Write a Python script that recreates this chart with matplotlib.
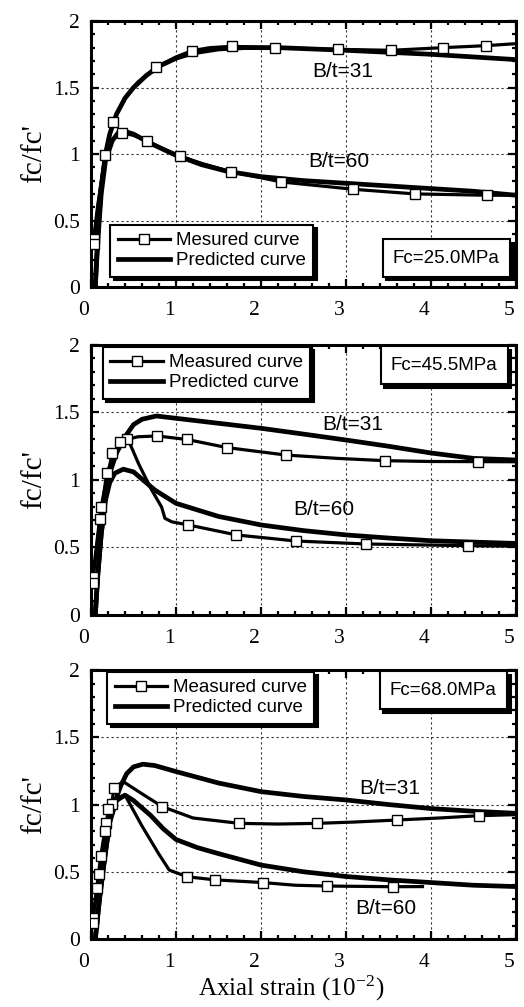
import matplotlib
matplotlib.use("Agg")
import matplotlib.pyplot as plt
from matplotlib.lines import Line2D
from matplotlib.ticker import MultipleLocator, FuncFormatter
import matplotlib.transforms as mtrans

# ---- panel 1: Fc = 25.0 MPa ----
p1_m31_x = [0.03, 0.255, 0.77, 1.185, 1.655, 2.165, 2.91, 3.53, 4.145, 4.65]
p1_m31_y = [0.36, 1.24, 1.655, 1.777, 1.81, 1.80, 1.787, 1.78, 1.80, 1.815]
p1_m31_line_x = [0.03, 0.08, 0.15, 0.255, 0.4, 0.55, 0.77, 1.0, 1.185, 1.4, 1.655, 2.165, 2.91, 3.53, 4.145, 4.65, 5.0]
p1_m31_line_y = [0.36, 0.62, 0.92, 1.24, 1.42, 1.54, 1.655, 1.73, 1.777, 1.80, 1.81, 1.80, 1.787, 1.78, 1.80, 1.815, 1.83]
p1_m60_x = [0.03, 0.165, 0.36, 0.655, 1.047, 1.647, 2.24, 3.085, 3.81, 4.66]
p1_m60_y = [0.32, 0.99, 1.16, 1.10, 0.985, 0.867, 0.79, 0.735, 0.70, 0.69]
p1_m60_line_x = [0.03, 0.08, 0.165, 0.25, 0.36, 0.5, 0.655, 0.85, 1.047, 1.3, 1.647, 2.24, 3.085, 3.81, 4.66, 5.0]
p1_m60_line_y = [0.32, 0.6, 0.99, 1.11, 1.16, 1.14, 1.10, 1.04, 0.985, 0.93, 0.867, 0.79, 0.735, 0.70, 0.69, 0.69]
p1_p31_x = [0.05, 0.08, 0.12, 0.17, 0.22, 0.3, 0.4, 0.5, 0.65, 0.8, 1.0, 1.2, 1.5, 1.8, 2.2, 2.6, 3.0, 3.5, 4.0, 4.5, 5.0]
p1_p31_y = [0.0, 0.4, 0.75, 1.0, 1.15, 1.30, 1.42, 1.50, 1.59, 1.66, 1.72, 1.76, 1.79, 1.80, 1.80, 1.79, 1.78, 1.765, 1.75, 1.73, 1.71]
p1_p60_x = [0.05, 0.08, 0.12, 0.17, 0.25, 0.32, 0.4, 0.5, 0.7, 1.0, 1.3, 1.6, 2.0, 2.5, 3.0, 3.5, 4.0, 4.5, 5.0]
p1_p60_y = [0.0, 0.35, 0.7, 0.95, 1.10, 1.16, 1.17, 1.15, 1.08, 0.99, 0.92, 0.87, 0.83, 0.80, 0.78, 0.76, 0.74, 0.72, 0.69]

# ---- panel 2: Fc = 45.5 MPa ----
p2_m31_x = [0.02, 0.118, 0.25, 0.42, 0.78, 1.13, 1.60, 2.29, 3.46, 4.55]
p2_m31_y = [0.28, 0.80, 1.20, 1.30, 1.326, 1.30, 1.24, 1.185, 1.143, 1.136]
p2_m31_line_x = [0.02, 0.118, 0.25, 0.42, 0.55, 0.78, 1.13, 1.60, 2.29, 2.9, 3.46, 4.0, 4.55, 5.0]
p2_m31_line_y = [0.28, 0.80, 1.20, 1.30, 1.32, 1.326, 1.30, 1.24, 1.185, 1.16, 1.143, 1.137, 1.136, 1.135]
p2_m60_x = [0.02, 0.106, 0.185, 0.34, 1.145, 1.71, 2.41, 3.23, 4.44]
p2_m60_y = [0.24, 0.71, 1.05, 1.28, 0.667, 0.593, 0.548, 0.526, 0.513]
p2_m60_line_x = [0.02, 0.106, 0.185, 0.34, 0.45, 0.56, 0.71, 0.83, 0.87, 0.95, 1.145, 1.71, 2.41, 3.23, 4.44, 5.0]
p2_m60_line_y = [0.24, 0.71, 1.05, 1.28, 1.28, 1.12, 0.93, 0.80, 0.716, 0.69, 0.667, 0.593, 0.548, 0.526, 0.513, 0.51]
p2_p31_x = [0.05, 0.08, 0.12, 0.17, 0.22, 0.3, 0.4, 0.5, 0.6, 0.77, 1.0, 1.5, 2.0, 2.5, 3.0, 3.5, 4.0, 4.5, 5.0]
p2_p31_y = [0.0, 0.3, 0.6, 0.88, 1.05, 1.2, 1.32, 1.41, 1.45, 1.474, 1.457, 1.42, 1.383, 1.34, 1.296, 1.25, 1.20, 1.16, 1.148]
p2_p60_x = [0.05, 0.08, 0.12, 0.17, 0.22, 0.28, 0.38, 0.5, 0.75, 1.0, 1.5, 2.0, 2.5, 3.0, 3.5, 4.0, 4.5, 5.0]
p2_p60_y = [0.0, 0.3, 0.6, 0.85, 0.98, 1.05, 1.08, 1.06, 0.926, 0.827, 0.73, 0.667, 0.625, 0.593, 0.57, 0.55, 0.54, 0.53]

# ---- panel 3: Fc = 68.0 MPa ----
p3_m31_x = [0.02, 0.067, 0.114, 0.176, 0.243, 0.27, 0.84, 1.745, 2.655, 3.60, 4.56]
p3_m31_y = [0.154, 0.38, 0.617, 0.86, 1.004, 1.125, 0.984, 0.86, 0.86, 0.885, 0.917]
p3_m31_line_x = [0.02, 0.067, 0.114, 0.176, 0.243, 0.27, 0.38, 0.6, 0.84, 1.2, 1.745, 2.2, 2.655, 3.1, 3.6, 4.1, 4.56, 5.0]
p3_m31_line_y = [0.154, 0.38, 0.617, 0.86, 1.004, 1.125, 1.17, 1.08, 0.984, 0.90, 0.86, 0.855, 0.86, 0.87, 0.885, 0.90, 0.917, 0.925]
p3_m60_x = [0.02, 0.094, 0.165, 0.204, 1.13, 1.46, 2.02, 2.78, 3.55]
p3_m60_y = [0.12, 0.483, 0.80, 0.967, 0.463, 0.44, 0.42, 0.394, 0.389]
p3_m60_line_x = [0.02, 0.094, 0.165, 0.204, 0.3, 0.4, 0.6, 0.8, 0.92, 1.13, 1.46, 2.02, 2.4, 2.78, 3.55, 3.9]
p3_m60_line_y = [0.12, 0.483, 0.80, 0.967, 1.05, 1.07, 0.84, 0.63, 0.513, 0.463, 0.44, 0.42, 0.40, 0.394, 0.389, 0.39]
p3_p31_x = [0.05, 0.1, 0.16, 0.22, 0.28, 0.35, 0.42, 0.5, 0.61, 0.75, 1.0, 1.5, 2.0, 2.5, 3.0, 3.5, 4.0, 4.5, 5.0]
p3_p31_y = [0.0, 0.3, 0.6, 0.87, 1.02, 1.14, 1.23, 1.28, 1.30, 1.29, 1.245, 1.16, 1.096, 1.06, 1.034, 1.00, 0.97, 0.95, 0.935]
p3_p60_x = [0.05, 0.1, 0.16, 0.22, 0.3, 0.4, 0.5, 0.7, 0.85, 1.0, 1.25, 1.5, 2.0, 2.5, 3.0, 3.5, 4.0, 4.5, 5.0]
p3_p60_y = [0.0, 0.3, 0.6, 0.87, 1.03, 1.07, 1.03, 0.92, 0.82, 0.74, 0.68, 0.635, 0.55, 0.50, 0.465, 0.44, 0.42, 0.40, 0.39]

fc_labels = ["Fc=25.0MPa", "Fc=45.5MPa", "Fc=68.0MPa"]
measured_labels = ["Mesured curve", "Measured curve", "Measured curve"]
predicted_label = "Predicted curve"
bt_labels = ["B/t=31", "B/t=60"]
# label positions (data coords) for B/t=31 and B/t=60
bt_pos = [[(2.96, 1.62), (2.92, 0.94)],
          [(3.08, 1.41), (2.74, 0.78)],
          [(3.51, 1.12), (3.47, 0.23)]]

panels = [
    (p1_m31_x, p1_m31_y, p1_m31_line_x, p1_m31_line_y, p1_m60_x, p1_m60_y, p1_m60_line_x, p1_m60_line_y,
     p1_p31_x, p1_p31_y, p1_p60_x, p1_p60_y),
    (p2_m31_x, p2_m31_y, p2_m31_line_x, p2_m31_line_y, p2_m60_x, p2_m60_y, p2_m60_line_x, p2_m60_line_y,
     p2_p31_x, p2_p31_y, p2_p60_x, p2_p60_y),
    (p3_m31_x, p3_m31_y, p3_m31_line_x, p3_m31_line_y, p3_m60_x, p3_m60_y, p3_m60_line_x, p3_m60_line_y,
     p3_p31_x, p3_p31_y, p3_p60_x, p3_p60_y),
]

serif = "Liberation Serif"
sans = "Liberation Sans"
plt.rcParams["font.family"] = serif
plt.rcParams["mathtext.fontset"] = "stix"

fig = plt.figure(figsize=(5.24, 10.07), dpi=100)
ax_rects = [
    [0.1737, 0.7150, 0.811, 0.2641],
    [0.1737, 0.3893, 0.811, 0.2681],
    [0.1737, 0.0675, 0.811, 0.2671],
]

m_lw = 2.3
p_lw = 3.4
mk = dict(marker="s", ms=7, mfc="white", mec="black", mew=1.0, ls="none", zorder=5)
shadow = {"color": "black", "alpha": 1, "ox": 2.5, "oy": -2.5}

for i, (rect, d) in enumerate(zip(ax_rects, panels)):
    (m31x, m31y, m31lx, m31ly, m60x, m60y, m60lx, m60ly, p31x, p31y, p60x, p60y) = d
    ax = fig.add_axes(rect)
    ax.set_xlim(0, 5)
    ax.set_ylim(0, 2)

    ax.plot(p31x, p31y, color="black", lw=p_lw, solid_capstyle="round", zorder=3)
    ax.plot(p60x, p60y, color="black", lw=p_lw, solid_capstyle="round", zorder=3)
    ax.plot(m31lx, m31ly, color="black", lw=m_lw, zorder=4)
    ax.plot(m60lx, m60ly, color="black", lw=m_lw, zorder=4)
    ax.plot(m31x, m31y, **mk)
    ax.plot(m60x, m60y, **mk)

    for lab, (tx, ty) in zip(bt_labels, bt_pos[i]):
        ax.text(tx, ty, lab, ha="center", va="center", fontsize=15, family=sans, zorder=6)

    ax.xaxis.set_major_locator(MultipleLocator(1))
    ax.xaxis.set_minor_locator(MultipleLocator(0.2))
    ax.yaxis.set_major_locator(MultipleLocator(0.5))
    ax.yaxis.set_minor_locator(MultipleLocator(0.1))
    ax.yaxis.set_major_formatter(FuncFormatter(lambda v, p: "%g" % v))
    ax.xaxis.set_major_formatter(FuncFormatter(lambda v, p: "%g" % v))
    ax.tick_params(which="both", direction="in", top=True, right=True, width=1.6, labelsize=15.5)
    ax.tick_params(which="major", length=5.5)
    ax.tick_params(which="minor", length=3.2)
    ax.tick_params(axis="x", pad=10)
    ax.tick_params(axis="y", pad=8)
    for lbl in ax.get_xticklabels():
        lbl.set_transform(lbl.get_transform() + mtrans.ScaledTranslation(-0.07, 0, fig.dpi_scale_trans))
    ax.grid(True, which="major", ls=(0, (2, 2.5)), lw=0.8, color="#333333")
    for sp in ax.spines.values():
        sp.set_linewidth(2.2)
    ax.set_ylabel("fc/fc'", fontsize=21, labelpad=4)

    handles = [Line2D([], [], color="black", lw=m_lw, marker="s", ms=7, mfc="white", mec="black", mew=1.0),
               Line2D([], [], color="black", lw=p_lw)]
    labels = [measured_labels[i], predicted_label]
    if i == 0:
        leg_kw = dict(loc="lower left", bbox_to_anchor=(0.045, 0.038))
        fc_kw = dict(loc="lower right", bbox_to_anchor=(0.986, 0.038))
    elif i == 1:
        leg_kw = dict(loc="upper left", bbox_to_anchor=(0.028, 0.994))
        fc_kw = dict(loc="upper right", bbox_to_anchor=(0.981, 0.995))
    else:
        leg_kw = dict(loc="upper left", bbox_to_anchor=(0.038, 0.994))
        fc_kw = dict(loc="upper right", bbox_to_anchor=(0.979, 0.995))
    leg = ax.legend(handles, labels, prop={"family": sans, "size": 13.5}, handlelength=2.8,
                    handletextpad=0.3, labelspacing=0.15, borderaxespad=0, borderpad=0.4,
                    fancybox=False, framealpha=1, edgecolor="black", shadow=shadow, **leg_kw)
    leg.get_frame().set_linewidth(1.5)
    leg.set_zorder(10)
    ax.add_artist(leg)
    fc_leg = ax.legend([Line2D([], [], ls="none")], [fc_labels[i]], prop={"family": sans, "size": 13.5},
                       handlelength=0, handletextpad=0, borderaxespad=0, borderpad=0.55,
                       fancybox=False, framealpha=1, edgecolor="black", shadow=shadow, **fc_kw)
    fc_leg.get_frame().set_linewidth(1.5)
    fc_leg.set_zorder(10)

    if i == 2:
        ax.set_xlabel(r"Axial strain (10$^{\mathregular{-2}}$)", fontsize=18, labelpad=0)
        ax.xaxis.set_label_coords(0.47, -0.128)

fig.savefig("out.png", dpi=100)
